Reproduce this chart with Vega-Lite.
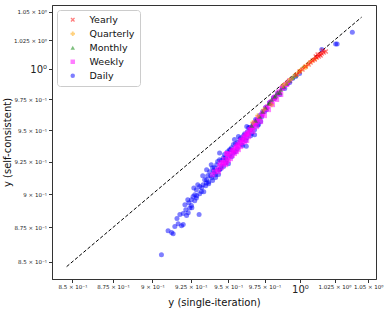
{
  "$schema": "https://vega.github.io/schema/vega-lite/v6.json",
  "width": 324,
  "height": 274,
  "autosize": {"type": "none"},
  "padding": {"left": 52, "top": 5, "right": 13, "bottom": 32},
  "background": "white",
  "config": {
    "font": "DejaVu Sans",
    "view": {"stroke": "#333", "strokeWidth": 1},
    "axis": {
      "grid": false,
      "tickSize": 3.5,
      "tickColor": "#333",
      "domainColor": "#333",
      "labelColor": "#222",
      "labelFont": "DejaVu Sans",
      "titleFont": "DejaVu Sans",
      "titleFontSize": 10,
      "titleFontWeight": "normal",
      "titleColor": "#111",
      "labelPadding": 2,
      "labelFlush": false,
      "labelOverlap": false
    }
  },
  "datasets": {
    "diag": [{"x": 0.8465, "y": 0.8465}, {"x": 1.045, "y": 1.045}],
    "pts": [
      {"x":0.9058,"y":0.8550,"freq":"Daily"},{"x":0.9101,"y":0.8725,"freq":"Daily"},{"x":0.9124,"y":0.8713,"freq":"Daily"},{"x":0.9134,"y":0.8703,"freq":"Daily"},{"x":0.9145,"y":0.8757,"freq":"Daily"},{"x":0.9167,"y":0.8777,"freq":"Daily"},{"x":0.9189,"y":0.8762,"freq":"Daily"},{"x":0.9200,"y":0.8771,"freq":"Daily"},{"x":0.9178,"y":0.8846,"freq":"Daily"},{"x":0.9200,"y":0.8854,"freq":"Daily"},{"x":0.9222,"y":0.8839,"freq":"Daily"},{"x":0.9233,"y":0.8859,"freq":"Daily"},{"x":0.9305,"y":0.8846,"freq":"Daily"},{"x":0.9243,"y":0.8895,"freq":"Daily"},{"x":0.9254,"y":0.8913,"freq":"Daily"},{"x":0.9254,"y":0.8957,"freq":"Daily"},{"x":0.9265,"y":0.8982,"freq":"Daily"},{"x":0.9287,"y":0.8970,"freq":"Daily"},{"x":0.9276,"y":0.8995,"freq":"Daily"},{"x":0.9287,"y":0.9033,"freq":"Daily"},{"x":0.9309,"y":0.9058,"freq":"Daily"},{"x":0.9320,"y":0.9020,"freq":"Daily"},{"x":0.9331,"y":0.9071,"freq":"Daily"},{"x":0.9353,"y":0.9084,"freq":"Daily"},{"x":0.9342,"y":0.9110,"freq":"Daily"},{"x":0.9329,"y":0.9140,"freq":"Daily"},{"x":0.9362,"y":0.9140,"freq":"Daily"},{"x":0.9375,"y":0.9171,"freq":"Daily"},{"x":0.9389,"y":0.9124,"freq":"Daily"},{"x":0.9395,"y":0.9202,"freq":"Daily"},{"x":0.9408,"y":0.9163,"freq":"Daily"},{"x":0.9422,"y":0.9226,"freq":"Daily"},{"x":0.9435,"y":0.9187,"freq":"Daily"},{"x":0.9442,"y":0.9265,"freq":"Daily"},{"x":0.9455,"y":0.9218,"freq":"Daily"},{"x":0.9468,"y":0.9281,"freq":"Daily"},{"x":0.9482,"y":0.9242,"freq":"Daily"},{"x":0.9495,"y":0.9328,"freq":"Daily"},{"x":0.9509,"y":0.9297,"freq":"Daily"},{"x":0.9523,"y":0.9359,"freq":"Daily"},{"x":0.9536,"y":0.9320,"freq":"Daily"},{"x":0.9550,"y":0.9390,"freq":"Daily"},{"x":0.9563,"y":0.9351,"freq":"Daily"},{"x":0.9579,"y":0.9424,"freq":"Daily"},{"x":0.9592,"y":0.9384,"freq":"Daily"},{"x":0.9606,"y":0.9456,"freq":"Daily"},{"x":0.9620,"y":0.9416,"freq":"Daily"},{"x":0.9633,"y":0.9488,"freq":"Daily"},{"x":0.9647,"y":0.9520,"freq":"Daily"},{"x":0.9661,"y":0.9472,"freq":"Daily"},{"x":0.9675,"y":0.9552,"freq":"Daily"},{"x":0.9688,"y":0.9584,"freq":"Daily"},{"x":0.9702,"y":0.9536,"freq":"Daily"},{"x":0.9716,"y":0.9617,"freq":"Daily"},{"x":0.9737,"y":0.9649,"freq":"Daily"},{"x":0.9757,"y":0.9682,"freq":"Daily"},{"x":0.9785,"y":0.9723,"freq":"Daily"},{"x":0.9813,"y":0.9764,"freq":"Daily"},{"x":0.9842,"y":0.9797,"freq":"Daily"},{"x":0.9877,"y":0.9847,"freq":"Daily"},{"x":0.9912,"y":0.9880,"freq":"Daily"},{"x":0.9947,"y":0.9922,"freq":"Daily"},{"x":0.9624,"y":0.9370,"freq":"Daily"},{"x":0.9681,"y":0.9463,"freq":"Daily"},{"x":0.9442,"y":0.9318,"freq":"Daily"},{"x":0.9386,"y":0.9226,"freq":"Daily"},{"x":1.0258,"y":1.0217,"freq":"Daily"},{"x":1.0269,"y":1.0216,"freq":"Daily"},{"x":1.0381,"y":1.0317,"freq":"Daily"},{"x":1.0157,"y":1.0168,"freq":"Daily"},{"x":0.9402,"y":0.9179,"freq":"Daily"},{"x":0.9429,"y":0.9250,"freq":"Daily"},{"x":0.9449,"y":0.9195,"freq":"Daily"},{"x":0.9475,"y":0.9305,"freq":"Daily"},{"x":0.9488,"y":0.9265,"freq":"Daily"},{"x":0.9516,"y":0.9343,"freq":"Daily"},{"x":0.9543,"y":0.9424,"freq":"Daily"},{"x":0.9570,"y":0.9448,"freq":"Daily"},{"x":0.9599,"y":0.9424,"freq":"Daily"},{"x":0.9627,"y":0.9528,"freq":"Daily"},{"x":0.9654,"y":0.9504,"freq":"Daily"},{"x":0.9296,"y":0.9071,"freq":"Daily"},{"x":0.9270,"y":0.9046,"freq":"Daily"},{"x":0.9355,"y":0.9187,"freq":"Daily"},{"x":0.9211,"y":0.8920,"freq":"Daily"},{"x":0.9159,"y":0.8816,"freq":"Daily"},{"x":0.9230,"y":0.8957,"freq":"Daily"},{"x":0.9369,"y":0.9093,"freq":"Daily"},{"x":0.9415,"y":0.9148,"freq":"Daily"},{"x":0.9723,"y":0.9568,"freq":"Daily"},
      {"x":0.9217,"y":0.8882,"freq":"Daily"},{"x":0.9237,"y":0.8935,"freq":"Daily"},{"x":0.9257,"y":0.8897,"freq":"Daily"},{"x":0.9276,"y":0.8950,"freq":"Daily"},{"x":0.9289,"y":0.8987,"freq":"Daily"},{"x":0.9309,"y":0.9003,"freq":"Daily"},{"x":0.9322,"y":0.9049,"freq":"Daily"},{"x":0.9336,"y":0.9018,"freq":"Daily"},{"x":0.9349,"y":0.9064,"freq":"Daily"},{"x":0.9355,"y":0.9110,"freq":"Daily"},{"x":0.9369,"y":0.9079,"freq":"Daily"},{"x":0.9382,"y":0.9141,"freq":"Daily"},{"x":0.9395,"y":0.9103,"freq":"Daily"},{"x":0.9408,"y":0.9203,"freq":"Daily"},{"x":0.9415,"y":0.9126,"freq":"Daily"},{"x":0.9435,"y":0.9149,"freq":"Daily"},{"x":0.9442,"y":0.9187,"freq":"Daily"},{"x":0.9455,"y":0.9258,"freq":"Daily"},{"x":0.9469,"y":0.9211,"freq":"Daily"},{"x":0.9482,"y":0.9281,"freq":"Daily"},{"x":0.9502,"y":0.9234,"freq":"Daily"},{"x":0.9509,"y":0.9344,"freq":"Daily"},{"x":0.9523,"y":0.9289,"freq":"Daily"},{"x":0.9536,"y":0.9384,"freq":"Daily"},{"x":0.9550,"y":0.9328,"freq":"Daily"},{"x":0.9563,"y":0.9400,"freq":"Daily"},{"x":0.9586,"y":0.9439,"freq":"Daily"},{"x":0.9599,"y":0.9376,"freq":"Daily"},{"x":0.9613,"y":0.9471,"freq":"Daily"},{"x":0.9627,"y":0.9439,"freq":"Daily"},{"x":0.9640,"y":0.9520,"freq":"Daily"},{"x":0.9654,"y":0.9455,"freq":"Daily"},{"x":0.9668,"y":0.9536,"freq":"Daily"},{"x":0.9681,"y":0.9503,"freq":"Daily"},{"x":0.9695,"y":0.9576,"freq":"Daily"},{"x":0.9709,"y":0.9544,"freq":"Daily"},{"x":0.9730,"y":0.9608,"freq":"Daily"},{"x":0.9750,"y":0.9649,"freq":"Daily"},{"x":0.9764,"y":0.9665,"freq":"Daily"},{"x":0.9792,"y":0.9715,"freq":"Daily"},{"x":0.9820,"y":0.9756,"freq":"Daily"},{"x":0.9857,"y":0.9789,"freq":"Daily"},{"x":0.9892,"y":0.9839,"freq":"Daily"},{"x":0.9927,"y":0.9889,"freq":"Daily"},{"x":0.9969,"y":0.9939,"freq":"Daily"},{"x":0.9997,"y":0.9964,"freq":"Daily"},
      {"x":0.9429,"y":0.9187,"freq":"Weekly"},{"x":0.9442,"y":0.9219,"freq":"Weekly"},{"x":0.9455,"y":0.9203,"freq":"Weekly"},{"x":0.9462,"y":0.9242,"freq":"Weekly"},{"x":0.9475,"y":0.9265,"freq":"Weekly"},{"x":0.9482,"y":0.9226,"freq":"Weekly"},{"x":0.9495,"y":0.9281,"freq":"Weekly"},{"x":0.9502,"y":0.9258,"freq":"Weekly"},{"x":0.9509,"y":0.9305,"freq":"Weekly"},{"x":0.9523,"y":0.9328,"freq":"Weekly"},{"x":0.9529,"y":0.9297,"freq":"Weekly"},{"x":0.9536,"y":0.9344,"freq":"Weekly"},{"x":0.9550,"y":0.9360,"freq":"Weekly"},{"x":0.9557,"y":0.9328,"freq":"Weekly"},{"x":0.9563,"y":0.9384,"freq":"Weekly"},{"x":0.9579,"y":0.9400,"freq":"Weekly"},{"x":0.9586,"y":0.9368,"freq":"Weekly"},{"x":0.9592,"y":0.9423,"freq":"Weekly"},{"x":0.9606,"y":0.9439,"freq":"Weekly"},{"x":0.9613,"y":0.9408,"freq":"Weekly"},{"x":0.9620,"y":0.9463,"freq":"Weekly"},{"x":0.9633,"y":0.9479,"freq":"Weekly"},{"x":0.9640,"y":0.9447,"freq":"Weekly"},{"x":0.9647,"y":0.9503,"freq":"Weekly"},{"x":0.9661,"y":0.9519,"freq":"Weekly"},{"x":0.9668,"y":0.9487,"freq":"Weekly"},{"x":0.9675,"y":0.9544,"freq":"Weekly"},{"x":0.9688,"y":0.9560,"freq":"Weekly"},{"x":0.9695,"y":0.9527,"freq":"Weekly"},{"x":0.9702,"y":0.9584,"freq":"Weekly"},{"x":0.9716,"y":0.9600,"freq":"Weekly"},{"x":0.9723,"y":0.9568,"freq":"Weekly"},{"x":0.9730,"y":0.9625,"freq":"Weekly"},{"x":0.9744,"y":0.9649,"freq":"Weekly"},{"x":0.9750,"y":0.9616,"freq":"Weekly"},{"x":0.9757,"y":0.9673,"freq":"Weekly"},{"x":0.9771,"y":0.9690,"freq":"Weekly"},{"x":0.9778,"y":0.9665,"freq":"Weekly"},{"x":0.9785,"y":0.9715,"freq":"Weekly"},{"x":0.9799,"y":0.9731,"freq":"Weekly"},{"x":0.9806,"y":0.9706,"freq":"Weekly"},{"x":0.9813,"y":0.9756,"freq":"Weekly"},{"x":0.9828,"y":0.9772,"freq":"Weekly"},{"x":0.9835,"y":0.9748,"freq":"Weekly"},{"x":0.9842,"y":0.9797,"freq":"Weekly"},{"x":0.9857,"y":0.9814,"freq":"Weekly"},{"x":0.9864,"y":0.9789,"freq":"Weekly"},{"x":0.9871,"y":0.9839,"freq":"Weekly"},{"x":0.9885,"y":0.9855,"freq":"Weekly"},{"x":0.9899,"y":0.9872,"freq":"Weekly"},{"x":0.9913,"y":0.9889,"freq":"Weekly"},{"x":0.9927,"y":0.9905,"freq":"Weekly"},{"x":0.9489,"y":0.9313,"freq":"Weekly"},{"x":0.9570,"y":0.9344,"freq":"Weekly"},{"x":0.9627,"y":0.9416,"freq":"Weekly"},{"x":0.9408,"y":0.9171,"freq":"Weekly"},{"x":0.9395,"y":0.9148,"freq":"Weekly"},
      {"x":0.9435,"y":0.9172,"freq":"Weekly"},{"x":0.9449,"y":0.9242,"freq":"Weekly"},{"x":0.9469,"y":0.9234,"freq":"Weekly"},{"x":0.9489,"y":0.9242,"freq":"Weekly"},{"x":0.9495,"y":0.9313,"freq":"Weekly"},{"x":0.9516,"y":0.9273,"freq":"Weekly"},{"x":0.9529,"y":0.9336,"freq":"Weekly"},{"x":0.9543,"y":0.9313,"freq":"Weekly"},{"x":0.9557,"y":0.9368,"freq":"Weekly"},{"x":0.9570,"y":0.9376,"freq":"Weekly"},{"x":0.9586,"y":0.9416,"freq":"Weekly"},{"x":0.9599,"y":0.9400,"freq":"Weekly"},{"x":0.9613,"y":0.9447,"freq":"Weekly"},{"x":0.9627,"y":0.9463,"freq":"Weekly"},{"x":0.9640,"y":0.9471,"freq":"Weekly"},{"x":0.9654,"y":0.9503,"freq":"Weekly"},{"x":0.9668,"y":0.9520,"freq":"Weekly"},{"x":0.9681,"y":0.9552,"freq":"Weekly"},{"x":0.9695,"y":0.9568,"freq":"Weekly"},{"x":0.9709,"y":0.9600,"freq":"Weekly"},{"x":0.9737,"y":0.9632,"freq":"Weekly"},{"x":0.9764,"y":0.9681,"freq":"Weekly"},{"x":0.9792,"y":0.9723,"freq":"Weekly"},{"x":0.9820,"y":0.9764,"freq":"Weekly"},{"x":0.9849,"y":0.9806,"freq":"Weekly"},{"x":0.9878,"y":0.9847,"freq":"Weekly"},{"x":0.9906,"y":0.9872,"freq":"Weekly"},
      {"x":0.9661,"y":0.9536,"freq":"Monthly"},{"x":0.9688,"y":0.9576,"freq":"Monthly"},{"x":0.9716,"y":0.9608,"freq":"Monthly"},{"x":0.9737,"y":0.9649,"freq":"Monthly"},{"x":0.9757,"y":0.9681,"freq":"Monthly"},{"x":0.9778,"y":0.9714,"freq":"Monthly"},{"x":0.9799,"y":0.9748,"freq":"Monthly"},{"x":0.9820,"y":0.9772,"freq":"Monthly"},{"x":0.9842,"y":0.9806,"freq":"Monthly"},{"x":0.9864,"y":0.9830,"freq":"Monthly"},{"x":0.9885,"y":0.9855,"freq":"Monthly"},{"x":0.9906,"y":0.9880,"freq":"Monthly"},{"x":0.9927,"y":0.9905,"freq":"Monthly"},{"x":0.9948,"y":0.9930,"freq":"Monthly"},{"x":0.9969,"y":0.9947,"freq":"Monthly"},{"x":0.9857,"y":0.9806,"freq":"Monthly"},{"x":0.9828,"y":0.9782,"freq":"Monthly"},{"x":0.9785,"y":0.9723,"freq":"Monthly"},
      {"x":0.9668,"y":0.9560,"freq":"Quarterly"},{"x":0.9702,"y":0.9616,"freq":"Quarterly"},{"x":0.9799,"y":0.9706,"freq":"Quarterly"},{"x":0.9744,"y":0.9665,"freq":"Quarterly"},{"x":0.9878,"y":0.9864,"freq":"Quarterly"},{"x":0.9899,"y":0.9881,"freq":"Quarterly"},{"x":0.9920,"y":0.9905,"freq":"Quarterly"},{"x":0.9941,"y":0.9922,"freq":"Quarterly"},{"x":0.9962,"y":0.9947,"freq":"Quarterly"},{"x":0.9983,"y":0.9964,"freq":"Quarterly"},{"x":1.0004,"y":0.9990,"freq":"Quarterly"},{"x":1.0026,"y":1.0015,"freq":"Quarterly"},{"x":1.0047,"y":1.0032,"freq":"Quarterly"},{"x":1.0069,"y":1.0057,"freq":"Quarterly"},{"x":1.0091,"y":1.0074,"freq":"Quarterly"},{"x":1.0113,"y":1.0091,"freq":"Quarterly"},{"x":0.9997,"y":0.9981,"freq":"Quarterly"},{"x":1.0040,"y":1.0015,"freq":"Quarterly"},
      {"x":0.9976,"y":0.9955,"freq":"Yearly"},{"x":0.9997,"y":0.9981,"freq":"Yearly"},{"x":1.0018,"y":0.9998,"freq":"Yearly"},{"x":1.0040,"y":1.0023,"freq":"Yearly"},{"x":1.0062,"y":1.0040,"freq":"Yearly"},{"x":1.0076,"y":1.0057,"freq":"Yearly"},{"x":1.0091,"y":1.0074,"freq":"Yearly"},{"x":1.0106,"y":1.0083,"freq":"Yearly"},{"x":1.0120,"y":1.0100,"freq":"Yearly"},{"x":1.0135,"y":1.0108,"freq":"Yearly"},{"x":1.0142,"y":1.0126,"freq":"Yearly"},{"x":1.0157,"y":1.0134,"freq":"Yearly"},{"x":1.0171,"y":1.0143,"freq":"Yearly"},{"x":1.0186,"y":1.0151,"freq":"Yearly"},{"x":1.0149,"y":1.0117,"freq":"Yearly"},{"x":1.0127,"y":1.0126,"freq":"Yearly"},{"x":1.0164,"y":1.0160,"freq":"Yearly"},{"x":1.0113,"y":1.0108,"freq":"Yearly"}
    ]
  },
  "layer": [
    {
      "data": {"name": "diag"},
      "mark": {"type": "line", "color": "black", "strokeDash": [3.5, 2], "strokeWidth": 1},
      "encoding": {
        "x": {"field": "x", "type": "quantitative",
          "scale": {"type": "log", "domain": [0.8377, 1.0558], "nice": false},
          "axis": {"title": "y (single-iteration)", "values": [0.85, 0.875, 0.9, 0.925, 0.95, 0.975, 1, 1.025, 1.05],
            "labelExpr": "datum.value == 1 ? '10⁰' : (datum.value > 1 ? format(datum.value, '.3~f') + ' × 10⁰' : format(datum.value * 10, '.3~f') + ' × 10⁻¹')",
            "labelFontSize": {"condition": {"test": "datum.value == 1", "value": 10}, "value": 5.5},
            "titlePadding": 3}},
        "y": {"field": "y", "type": "quantitative",
          "scale": {"type": "log", "domain": [0.8377, 1.0558], "nice": false},
          "axis": {"title": "y (self-consistent)", "values": [0.85, 0.875, 0.9, 0.925, 0.95, 0.975, 1, 1.025, 1.05],
            "labelExpr": "datum.value == 1 ? '10⁰' : (datum.value > 1 ? format(datum.value, '.3~f') + ' × 10⁰' : format(datum.value * 10, '.3~f') + ' × 10⁻¹')",
            "labelFontSize": {"condition": {"test": "datum.value == 1", "value": 10}, "value": 5.5},
            "titleX": -40}}
      }
    },
    {
      "data": {"name": "pts"},
      "mark": {"type": "point", "filled": true, "opacity": 0.5, "size": 25},
      "encoding": {
        "x": {"field": "x", "type": "quantitative", "scale": {"type": "log", "domain": [0.8377, 1.0558], "nice": false}},
        "y": {"field": "y", "type": "quantitative", "scale": {"type": "log", "domain": [0.8377, 1.0558], "nice": false}},
        "color": {"field": "freq", "type": "nominal",
          "scale": {"domain": ["Yearly", "Quarterly", "Monthly", "Weekly", "Daily"], "range": ["#ff0000", "#ffa500", "#008000", "#ff00ff", "#0000ff"]},
          "legend": {"title": null, "orient": "top-left", "offset": 5, "fillColor": "white", "strokeColor": "#cccccc", "cornerRadius": 3, "padding": 5, "labelFontSize": 9.5, "labelFont": "DejaVu Sans", "labelColor": "#111", "symbolSize": 20, "symbolOpacity": 0.5, "rowPadding": 3, "symbolOffset": 6, "labelOffset": 12, "labelExpr": "datum.label + '\u2003\u2003\u2003'"}},
        "shape": {"field": "freq", "type": "nominal",
          "scale": {"domain": ["Yearly", "Quarterly", "Monthly", "Weekly", "Daily"], "range": ["M-1,-0.6L-0.6,-1L0,-0.4L0.6,-1L1,-0.6L0.4,0L1,0.6L0.6,1L0,0.4L-0.6,1L-1,0.6L-0.4,0Z", "cross", "triangle-up", "square", "circle"]},
          "legend": {"title": null, "orient": "top-left", "offset": 5, "fillColor": "white", "strokeColor": "#cccccc", "cornerRadius": 3, "padding": 5, "labelFontSize": 9.5, "labelFont": "DejaVu Sans", "labelColor": "#111", "symbolSize": 20, "symbolOpacity": 0.5, "rowPadding": 3, "symbolOffset": 6, "labelOffset": 12, "labelExpr": "datum.label + '\u2003\u2003\u2003'"}}
      }
    }
  ]
}
